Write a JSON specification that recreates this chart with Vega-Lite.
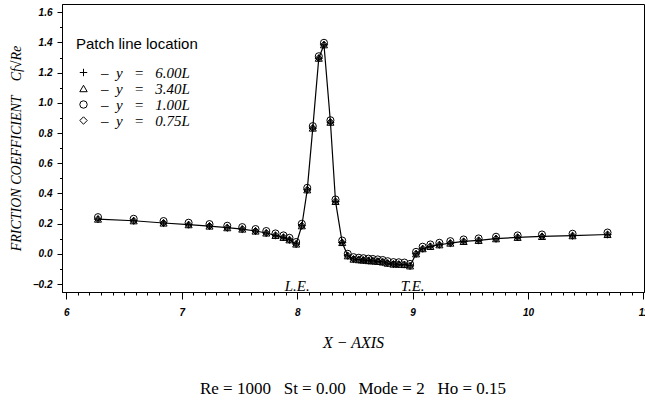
{
  "$schema": "https://vega.github.io/schema/vega-lite/v6.json",
  "width": 582,
  "height": 288,
  "autosize": {"type": "none"},
  "padding": {"left": 62, "top": 4, "right": 1, "bottom": 110},
  "background": "white",
  "title": {
    "text": "Re = 1000\u00a0\u00a0\u00a0St = 0.00\u00a0\u00a0\u00a0Mode = 2\u00a0\u00a0\u00a0Ho = 0.15",
    "orient": "bottom",
    "anchor": "middle",
    "offset": 31,
    "font": "Liberation Serif",
    "fontSize": 17,
    "fontWeight": "normal",
    "color": "black"
  },
  "config": {
    "view": {"stroke": "black", "strokeWidth": 1},
    "axis": {
      "grid": false,
      "domainColor": "black",
      "domainWidth": 1,
      "tickColor": "black",
      "tickWidth": 1,
      "labelFont": "Liberation Sans",
      "labelFontStyle": "italic",
      "labelFontWeight": "bold",
      "labelFontSize": 10,
      "labelColor": "black",
      "titleFont": "Liberation Serif",
      "titleFontStyle": "italic",
      "titleFontWeight": "normal",
      "titleColor": "black"
    }
  },
  "datasets": {
    "cf": [
      {"x": 6.274, "y600": 0.230, "y340": 0.230, "y100": 0.243, "y075": 0.230},
      {"x": 6.583, "y600": 0.219, "y340": 0.219, "y100": 0.232, "y075": 0.219},
      {"x": 6.842, "y600": 0.204, "y340": 0.204, "y100": 0.217, "y075": 0.204},
      {"x": 7.059, "y600": 0.193, "y340": 0.193, "y100": 0.206, "y075": 0.193},
      {"x": 7.240, "y600": 0.184, "y340": 0.184, "y100": 0.197, "y075": 0.184},
      {"x": 7.394, "y600": 0.173, "y340": 0.173, "y100": 0.186, "y075": 0.173},
      {"x": 7.524, "y600": 0.164, "y340": 0.164, "y100": 0.177, "y075": 0.164},
      {"x": 7.639, "y600": 0.151, "y340": 0.151, "y100": 0.164, "y075": 0.151},
      {"x": 7.732, "y600": 0.138, "y340": 0.138, "y100": 0.151, "y075": 0.138},
      {"x": 7.812, "y600": 0.122, "y340": 0.122, "y100": 0.135, "y075": 0.122},
      {"x": 7.881, "y600": 0.109, "y340": 0.109, "y100": 0.122, "y075": 0.109},
      {"x": 7.933, "y600": 0.093, "y340": 0.093, "y100": 0.106, "y075": 0.093},
      {"x": 7.991, "y600": 0.065, "y340": 0.065, "y100": 0.078, "y075": 0.065},
      {"x": 8.040, "y600": 0.186, "y340": 0.186, "y100": 0.199, "y075": 0.186},
      {"x": 8.087, "y600": 0.424, "y340": 0.424, "y100": 0.437, "y075": 0.424},
      {"x": 8.135, "y600": 0.833, "y340": 0.833, "y100": 0.846, "y075": 0.833},
      {"x": 8.187, "y600": 1.296, "y340": 1.296, "y100": 1.309, "y075": 1.296},
      {"x": 8.232, "y600": 1.385, "y340": 1.385, "y100": 1.398, "y075": 1.385},
      {"x": 8.288, "y600": 0.872, "y340": 0.872, "y100": 0.885, "y075": 0.872},
      {"x": 8.332, "y600": 0.347, "y340": 0.347, "y100": 0.360, "y075": 0.347},
      {"x": 8.390, "y600": 0.075, "y340": 0.075, "y100": 0.088, "y075": 0.075},
      {"x": 8.438, "y600": -0.013, "y340": -0.013, "y100": 0.000, "y075": -0.013},
      {"x": 8.488, "y600": -0.035, "y340": -0.035, "y100": -0.022, "y075": -0.035},
      {"x": 8.534, "y600": -0.039, "y340": -0.039, "y100": -0.026, "y075": -0.039},
      {"x": 8.574, "y600": -0.042, "y340": -0.042, "y100": -0.029, "y075": -0.042},
      {"x": 8.617, "y600": -0.045, "y340": -0.045, "y100": -0.032, "y075": -0.045},
      {"x": 8.655, "y600": -0.047, "y340": -0.047, "y100": -0.034, "y075": -0.047},
      {"x": 8.698, "y600": -0.050, "y340": -0.050, "y100": -0.037, "y075": -0.050},
      {"x": 8.741, "y600": -0.054, "y340": -0.054, "y100": -0.041, "y075": -0.054},
      {"x": 8.784, "y600": -0.062, "y340": -0.062, "y100": -0.049, "y075": -0.062},
      {"x": 8.834, "y600": -0.068, "y340": -0.068, "y100": -0.055, "y075": -0.068},
      {"x": 8.880, "y600": -0.069, "y340": -0.069, "y100": -0.056, "y075": -0.069},
      {"x": 8.929, "y600": -0.071, "y340": -0.071, "y100": -0.058, "y075": -0.071},
      {"x": 8.978, "y600": -0.080, "y340": -0.080, "y100": -0.067, "y075": -0.080},
      {"x": 9.030, "y600": 0.000, "y340": 0.000, "y100": 0.013, "y075": 0.000},
      {"x": 9.087, "y600": 0.034, "y340": 0.034, "y100": 0.047, "y075": 0.034},
      {"x": 9.154, "y600": 0.049, "y340": 0.049, "y100": 0.062, "y075": 0.049},
      {"x": 9.232, "y600": 0.060, "y340": 0.060, "y100": 0.073, "y075": 0.060},
      {"x": 9.327, "y600": 0.071, "y340": 0.071, "y100": 0.084, "y075": 0.071},
      {"x": 9.442, "y600": 0.082, "y340": 0.082, "y100": 0.095, "y075": 0.082},
      {"x": 9.572, "y600": 0.089, "y340": 0.089, "y100": 0.102, "y075": 0.089},
      {"x": 9.723, "y600": 0.100, "y340": 0.100, "y100": 0.113, "y075": 0.100},
      {"x": 9.910, "y600": 0.109, "y340": 0.109, "y100": 0.122, "y075": 0.109},
      {"x": 10.121, "y600": 0.115, "y340": 0.115, "y100": 0.128, "y075": 0.115},
      {"x": 10.386, "y600": 0.120, "y340": 0.120, "y100": 0.133, "y075": 0.120},
      {"x": 10.689, "y600": 0.128, "y340": 0.128, "y100": 0.141, "y075": 0.128}
    ],
    "edges": [
      {"x": 8, "label": "L.E."},
      {"x": 9, "label": "T.E."}
    ]
  },
  "encoding": {
    "x": {
      "field": "x",
      "type": "quantitative",
      "scale": {"domain": [5.962, 11.005], "nice": false, "zero": false},
      "axis": {
        "title": "X \u2212 AXIS",
        "titleFontSize": 16,
        "titlePadding": 17,
        "labelOverlap": false,
        "labelFlush": false,
        "values": [6, 6.1, 6.2, 6.3, 6.4, 6.5, 6.6, 6.7, 6.8, 6.9, 7, 7.1, 7.2, 7.3, 7.4, 7.5, 7.6, 7.7, 7.8, 7.9, 8, 8.1, 8.2, 8.3, 8.4, 8.5, 8.6, 8.7, 8.8, 8.9, 9, 9.1, 9.2, 9.3, 9.4, 9.5, 9.6, 9.7, 9.8, 9.9, 10, 10.1, 10.2, 10.3, 10.4, 10.5, 10.6, 10.7, 10.8, 10.9, 11],
        "labelExpr": "abs(datum.value - round(datum.value)) < 0.001 ? format(datum.value, 'd') : ''",
        "tickSize": {"condition": {"test": "abs(datum.value - round(datum.value)) < 0.001", "value": 7}, "value": 3},
        "labelPadding": 8
      }
    }
  },
  "layer": [
    {
      "data": {"name": "cf"},
      "transform": [
        {"fold": ["y600", "y340", "y100", "y075"], "as": ["series", "cf"]},
        {"filter": "datum.series == 'y600'"}
      ],
      "mark": {"type": "line", "color": "black", "strokeWidth": 1.2},
      "encoding": {
        "y": {
          "field": "cf",
          "type": "quantitative",
          "scale": {"domain": [-0.253, 1.655], "nice": false, "zero": false},
          "axis": {
            "title": "FRICTION COEFFICIENT\u00a0\u00a0\u00a0\u00a0Cf\u221aRe\u00a0\u00a0\u00a0\u00a0\u00a0\u00a0\u00a0\u00a0\u00a0\u00a0\u00a0\u00a0",
            "titleFontSize": 14,
            "titlePadding": 9,
            "labelOverlap": false,
            "labelFlush": false,
            "values": [-0.2, -0.1, 0, 0.1, 0.2, 0.3, 0.4, 0.5, 0.6, 0.7, 0.8, 0.9, 1.0, 1.1, 1.2, 1.3, 1.4, 1.5, 1.6],
            "labelExpr": "abs(datum.value * 5 - round(datum.value * 5)) < 0.001 ? format(datum.value, '.1f') : ''",
            "tickSize": {"condition": {"test": "abs(datum.value * 5 - round(datum.value * 5)) < 0.001", "value": 5}, "value": 2.5},
            "labelPadding": 5
          }
        }
      }
    },
    {
      "data": {"name": "cf"},
      "transform": [
        {"fold": ["y600", "y340", "y100", "y075"], "as": ["series", "cf"]}
      ],
      "mark": {"type": "point", "filled": false, "stroke": "black", "strokeWidth": 1, "size": 50, "opacity": 1},
      "encoding": {
        "y": {
          "field": "cf",
          "type": "quantitative",
          "scale": {"domain": [-0.253, 1.655], "nice": false, "zero": false},
          "axis": {
            "title": "FRICTION COEFFICIENT\u00a0\u00a0\u00a0\u00a0Cf\u221aRe\u00a0\u00a0\u00a0\u00a0\u00a0\u00a0\u00a0\u00a0\u00a0\u00a0\u00a0\u00a0",
            "titleFontSize": 14,
            "titlePadding": 9,
            "labelOverlap": false,
            "labelFlush": false,
            "values": [-0.2, -0.1, 0, 0.1, 0.2, 0.3, 0.4, 0.5, 0.6, 0.7, 0.8, 0.9, 1.0, 1.1, 1.2, 1.3, 1.4, 1.5, 1.6],
            "labelExpr": "abs(datum.value * 5 - round(datum.value * 5)) < 0.001 ? format(datum.value, '.1f') : ''",
            "tickSize": {"condition": {"test": "abs(datum.value * 5 - round(datum.value * 5)) < 0.001", "value": 5}, "value": 2.5},
            "labelPadding": 5
          }
        },
        "shape": {
          "field": "series",
          "type": "nominal",
          "scale": {
            "domain": ["y600", "y340", "y100", "y075"],
            "range": ["M-1,0L1,0M0,-1L0,1", "triangle-up", "circle", "diamond"]
          },
          "legend": {
            "title": "Patch line location",
            "orient": "none",
            "legendX": 14,
            "legendY": 33,
            "padding": 0,
            "titleFont": "Liberation Sans",
            "titleFontSize": 15,
            "titleFontWeight": "normal",
            "titleColor": "black",
            "titlePadding": 13,
            "labelFont": "Liberation Serif",
            "labelFontStyle": "italic",
            "labelFontSize": 15,
            "labelColor": "black",
            "labelOffset": 10,
            "labelLimit": 400,
            "rowPadding": 0,
            "symbolStrokeColor": "black",
            "symbolFillColor": "transparent",
            "symbolStrokeWidth": 1,
            "symbolSize": 55,
            "labelExpr": "'\u2013\u00a0\u00a0y\u00a0\u00a0\u00a0=\u00a0\u00a0\u00a0' + (datum.value == 'y600' ? '6.00L' : datum.value == 'y340' ? '3.40L' : datum.value == 'y100' ? '1.00L' : '0.75L')"
          }
        }
      }
    },
    {
      "data": {"name": "edges"},
      "mark": {"type": "text", "font": "Liberation Serif", "fontStyle": "italic", "fontSize": 15, "baseline": "middle", "align": "center", "color": "black"},
      "encoding": {
        "y": {
          "datum": -0.216,
          "type": "quantitative",
          "axis": {
            "title": "FRICTION COEFFICIENT\u00a0\u00a0\u00a0\u00a0Cf\u221aRe\u00a0\u00a0\u00a0\u00a0\u00a0\u00a0\u00a0\u00a0\u00a0\u00a0\u00a0\u00a0",
            "titleFontSize": 14,
            "titlePadding": 9,
            "labelOverlap": false,
            "labelFlush": false,
            "values": [-0.2, -0.1, 0, 0.1, 0.2, 0.3, 0.4, 0.5, 0.6, 0.7, 0.8, 0.9, 1.0, 1.1, 1.2, 1.3, 1.4, 1.5, 1.6],
            "labelExpr": "abs(datum.value * 5 - round(datum.value * 5)) < 0.001 ? format(datum.value, '.1f') : ''",
            "tickSize": {"condition": {"test": "abs(datum.value * 5 - round(datum.value * 5)) < 0.001", "value": 5}, "value": 2.5},
            "labelPadding": 5
          }
        },
        "text": {"field": "label", "type": "nominal"}
      }
    }
  ]
}
